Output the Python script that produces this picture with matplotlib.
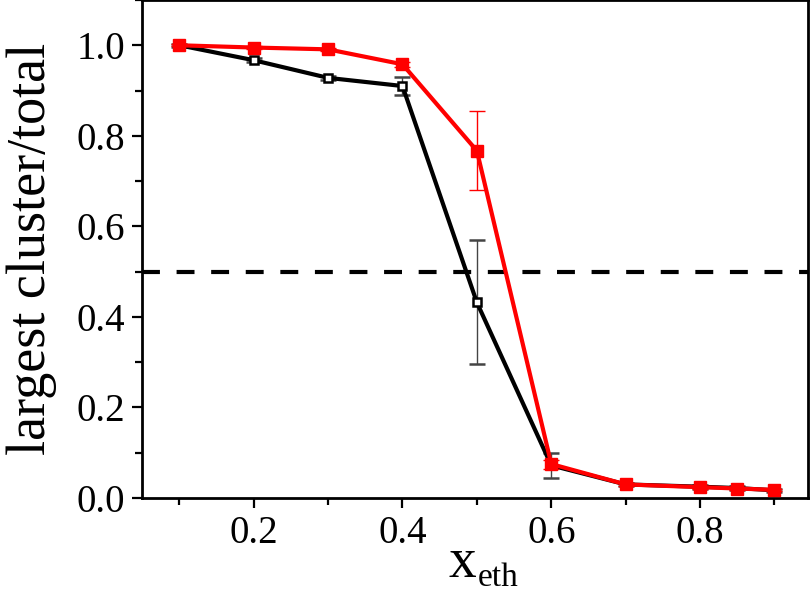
import matplotlib
matplotlib.use("Agg")
import matplotlib.pyplot as plt
from matplotlib.ticker import MultipleLocator

plt.rcParams["font.family"] = ["Liberation Serif", "DejaVu Serif"]

x_eth = [0.1, 0.2, 0.3, 0.4, 0.5, 0.6, 0.7, 0.8, 0.85, 0.9]

black_vals = [1.0, 0.967, 0.928, 0.910, 0.432, 0.072, 0.030, 0.025, 0.022, 0.017]
black_err = [0.003, 0.005, 0.004, 0.020, 0.137, 0.027, 0.004, 0.004, 0.004, 0.003]

red_vals = [1.0, 0.995, 0.991, 0.958, 0.767, 0.075, 0.030, 0.024, 0.021, 0.018]
red_err = [0.002, 0.003, 0.004, 0.005, 0.087, 0.010, 0.003, 0.003, 0.003, 0.003]

threshold = 0.5

fig = plt.figure(figsize=(8.12, 5.95), dpi=100)
ax = fig.add_axes([0.175, 0.163, 0.820, 0.837])

ax.axhline(threshold, color="black", lw=3.0, ls=(0, (4.3, 4.0)), zorder=1)

ax.errorbar(x_eth, black_vals, yerr=black_err, color="black", lw=3.0,
            marker="s", ms=6, mfc="white", mec="black", mew=1.8,
            ecolor="#444444", elinewidth=1.0, capsize=5.5, capthick=1.0, zorder=3)
ax.errorbar(x_eth, red_vals, yerr=red_err, color="#ff0000", lw=3.0,
            marker="s", ms=8, mfc="#ff0000", mec="#ff0000",
            ecolor="#ff0000", elinewidth=1.0, capsize=5.5, capthick=1.0, zorder=4)

ax.set_xlim(0.05, 0.945)
ax.set_ylim(0, 1.1)
ax.xaxis.set_major_locator(MultipleLocator(0.2))
ax.xaxis.set_minor_locator(MultipleLocator(0.1))
ax.yaxis.set_major_locator(MultipleLocator(0.2))
ax.yaxis.set_minor_locator(MultipleLocator(0.1))
ax.tick_params(which="major", direction="out", length=7, width=1.6, labelsize=28, pad=5)
ax.tick_params(which="minor", direction="out", length=5, width=1.6)
ax.set_xticks([0.2, 0.4, 0.6, 0.8])
ax.set_xticklabels(["0.2", "0.4", "0.6", "0.8"])
ax.set_yticks([0.0, 0.2, 0.4, 0.6, 0.8, 1.0])
ax.set_yticklabels(["0.0", "0.2", "0.4", "0.6", "0.8", "1.0"])
for s in ax.spines.values():
    s.set_linewidth(2.0)

ax.set_ylabel("largest cluster/total", fontsize=39, labelpad=14)

# x label: "x" with a large "eth" subscript
fig.text(476 / 812, 1 - 577 / 595, "x", fontsize=40, ha="right", va="baseline")
fig.text(478 / 812, 1 - 586 / 595, "eth", fontsize=24, ha="left", va="baseline")

fig.savefig("out.png", dpi=100)
